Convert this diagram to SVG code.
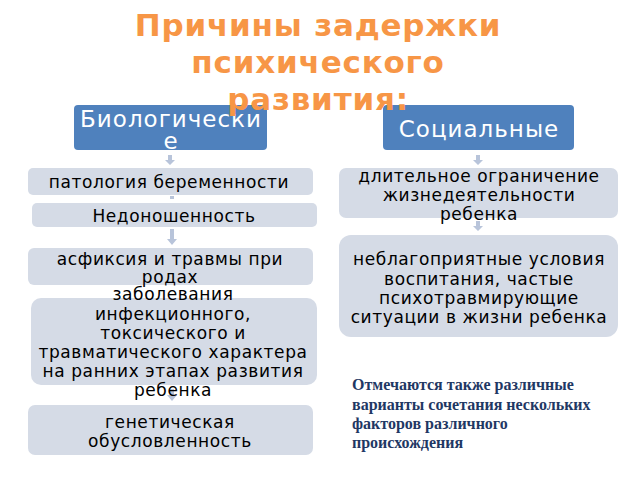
<svg xmlns="http://www.w3.org/2000/svg" width="640" height="480" viewBox="0 0 640 480">
<style>
.hdr{fill:#4F81BD;}
.box{fill:#D5DBE6;}
.ht{font-family:"DejaVu Sans",sans-serif;font-size:23px;letter-spacing:1px;fill:#FFFFFF;text-anchor:middle;}
.bt{font-family:"DejaVu Sans",sans-serif;font-size:17px;letter-spacing:0.6px;fill:#000000;text-anchor:middle;}
.ttl{font-family:"DejaVu Sans",sans-serif;font-size:31px;letter-spacing:0.8px;font-weight:bold;fill:#F79646;text-anchor:middle;}
.note{font-family:"Liberation Serif",serif;font-size:16px;font-weight:bold;fill:#1F3864;}
.arr{fill:#B8C4DA;}
</style>
<rect width="640" height="480" fill="#FFFFFF"/>
<g id="connectors">
<path class="arr" d="M168,155 h4 v5 h3 l-5,5 l-5,-5 h3 z"/>
<path class="arr" d="M170,196 h4 v3 h-4 z"/>
<path class="arr" d="M170,229 h4 v10 h3 l-5,6 l-5,-6 h3 z"/>
<path class="arr" d="M170,389 h4 v6 h3 l-5,6 l-5,-6 h3 z"/>
<path class="arr" d="M476,155 h4 v5 h3 l-5,5 l-5,-5 h3 z"/>
<path class="arr" d="M476,221 h4 v5 h3 l-5,5 l-5,-5 h3 z"/>
</g>
<g id="bio">
<rect class="hdr" x="74" y="105" width="193" height="45" rx="4"/>
<text class="ht" x="171" y="127">Биологически</text>
<text class="ht" x="171" y="149">е</text>
</g>
<g id="soc">
<rect class="hdr" x="383" y="105" width="191" height="45" rx="4"/>
<text class="ht" x="479" y="137">Социальные</text>
</g>
<g id="n1">
<rect class="box" x="28" y="168" width="285" height="27" rx="5"/>
<text class="bt" x="169" y="188">патология беременности</text>
</g>
<g id="n2">
<rect class="box" x="32" y="203" width="285" height="24" rx="5"/>
<text class="bt" x="174" y="222">Недоношенность</text>
</g>
<g id="n3">
<rect class="box" x="28" y="248" width="285" height="37" rx="6"/>
<text class="bt" x="170" y="265">асфиксия и травмы при</text>
<text class="bt" x="170" y="283">родах</text>
</g>
<g id="n4">
<rect class="box" x="31" y="298" width="286" height="87" rx="10"/>
<text class="bt" x="173" y="300">заболевания</text>
<text class="bt" x="173" y="320">инфекционного,</text>
<text class="bt" x="173" y="339">токсического и</text>
<text class="bt" x="173" y="358">травматического характера</text>
<text class="bt" x="173" y="377">на ранних этапах развития</text>
<text class="bt" x="173" y="396">ребенка</text>
</g>
<g id="n5">
<rect class="box" x="28" y="405" width="285" height="50" rx="7"/>
<text class="bt" x="170" y="428">генетическая</text>
<text class="bt" x="170" y="447">обусловленность</text>
</g>
<g id="r1">
<rect class="box" x="339" y="168" width="279" height="50" rx="7"/>
<text class="bt" x="479" y="182">длительное ограничение</text>
<text class="bt" x="479" y="201">жизнедеятельности</text>
<text class="bt" x="479" y="220">ребенка</text>
</g>
<g id="r2">
<rect class="box" x="339" y="235" width="279" height="102" rx="12"/>
<text class="bt" x="479" y="265">неблагоприятные условия</text>
<text class="bt" x="479" y="285">воспитания, частые</text>
<text class="bt" x="479" y="304">психотравмирующие</text>
<text class="bt" x="479" y="323">ситуации в жизни ребенка</text>
</g>
<g id="title">
<text class="ttl" x="318" y="36">Причины задержки</text>
<text class="ttl" x="318" y="73">психического</text>
<text class="ttl" x="318" y="110">развития:</text>
</g>
<g id="note">
<text class="note" x="352" y="390">Отмечаются также различные</text>
<text class="note" x="352" y="410">варианты сочетания нескольких</text>
<text class="note" x="352" y="429">факторов различного</text>
<text class="note" x="352" y="448">происхождения</text>
</g>
</svg>
